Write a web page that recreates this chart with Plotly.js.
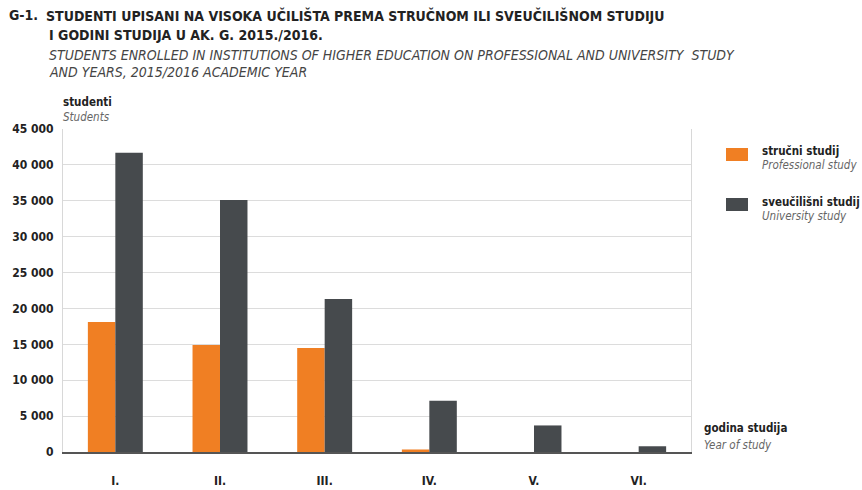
<!DOCTYPE html>
<html><head><meta charset="utf-8">
<script src="https://cdn.plot.ly/plotly-3.0.1.min.js"></script>
<style>html,body{margin:0;padding:0;background:#fff}
#chart text{font-stretch:condensed !important;}</style>
</head><body>
<div id="chart" style="width:862px;height:490px"></div>
<script>
const categories = ["I.", "II.", "III.", "IV.", "V.", "VI."];
const professional = [18100, 14900, 14500, 350, 0, 0];
const university = [41700, 35100, 21300, 7150, 3700, 800];
const yTicks = [0, 5000, 10000, 15000, 20000, 25000, 30000, 35000, 40000, 45000];
const seriesNames = ["stručni studij", "sveučilišni studij"];
const seriesNamesEn = ["Professional study", "University study"];
const seriesColors = ["#f07f23", "#464a4d"];

const F = "DejaVu Sans, sans-serif";
const DARK = "#222";
const SUB = "#666";

const traces = [
  {type: "bar", x: categories, y: professional, marker: {color: seriesColors[0]}, name: seriesNames[0], hoverinfo: "y"},
  {type: "bar", x: categories, y: university, marker: {color: seriesColors[1]}, name: seriesNames[1], hoverinfo: "y"}
];

function ann(x, y, text, size, color, anchor) {
  return {xref: "paper", yref: "paper", x: x, y: y, xanchor: "left", yanchor: anchor || "middle",
    showarrow: false, align: "left", text: text, font: {family: F, size: size, color: color}};
}

const legendY = [[0.9319, 0.8885], [0.7740, 0.7307]];
const swatchY = [[0.9009, 0.9412], [0.7461, 0.7864]];

const annotations = [
  ann(-0.0892, 1.3514, "<b>G-1.</b>", 14, DARK),
  ann(-0.0303, 1.3514, "<b>STUDENTI UPISANI NA VISOKA UČILIŠTA PREMA STRUČNOM ILI SVEUČILIŠNOM STUDIJU</b>", 14, DARK),
  ann(-0.0255, 1.2895, "<b>I GODINI STUDIJA U AK. G. 2015./2016.</b>", 14, DARK),
  ann(-0.0255, 1.2291, "<i>STUDENTS ENROLLED IN INSTITUTIONS OF HIGHER EDUCATION ON PROFESSIONAL AND UNIVERSITY  STUDY</i>", 14, "#444"),
  ann(-0.0255, 1.1765, "<i>AND YEARS, 2015/2016 ACADEMIC YEAR</i>", 14, "#444"),
  ann(-0.0032, 1.0836, "<b>studenti</b>", 11.5, DARK),
  ann(-0.0032, 1.0372, "<i>Students</i>", 11.5, SUB),
  ann(1.0175, 0.0743, "<b>godina studija</b>", 11.5, DARK),
  ann(1.0175, 0.0217, "<i>Year of study</i>", 11.5, SUB)
];
const shapes = [];
for (let i = 0; i < seriesNames.length; i++) {
  annotations.push(ann(1.1099, legendY[i][0], "<b>" + seriesNames[i] + "</b>", 11.5, DARK));
  annotations.push(ann(1.1099, legendY[i][1], "<i>" + seriesNamesEn[i] + "</i>", 11.5, SUB));
  shapes.push({type: "rect", xref: "paper", yref: "paper", x0: 1.0557, x1: 1.0908,
    y0: swatchY[i][0], y1: swatchY[i][1], fillcolor: seriesColors[i], line: {width: 0}});
}

const layout = {
  width: 862, height: 490,
  margin: {l: 63, r: 171, t: 129, b: 38},
  paper_bgcolor: "#fff", plot_bgcolor: "#fff",
  separators: ". ",
  barmode: "group", bargap: 0.475, bargroupgap: 0,
  font: {family: F, color: DARK, size: 12},
  showlegend: false,
  xaxis: {type: "category", showgrid: false, showline: true, linecolor: "#555", linewidth: 2,
    automargin: false, ticks: "", tickfont: {family: F, size: 12, color: DARK, weight: "bold"}, ticklabelstandoff: 17},
  yaxis: {range: [0, 45000], tickvals: yTicks, tickformat: ",d", showgrid: true, gridcolor: "#dcdcdc",
    gridwidth: 1, zeroline: false, showline: true, mirror: true, linecolor: "#d8d8d8", automargin: false,
    ticks: "", ticklabelstandoff: 6, tickfont: {family: F, size: 12, color: DARK, weight: "bold"}},
  annotations: annotations,
  shapes: shapes
};

Plotly.newPlot("chart", traces, layout, {displayModeBar: false, staticPlot: true});
</script>
</body></html>
